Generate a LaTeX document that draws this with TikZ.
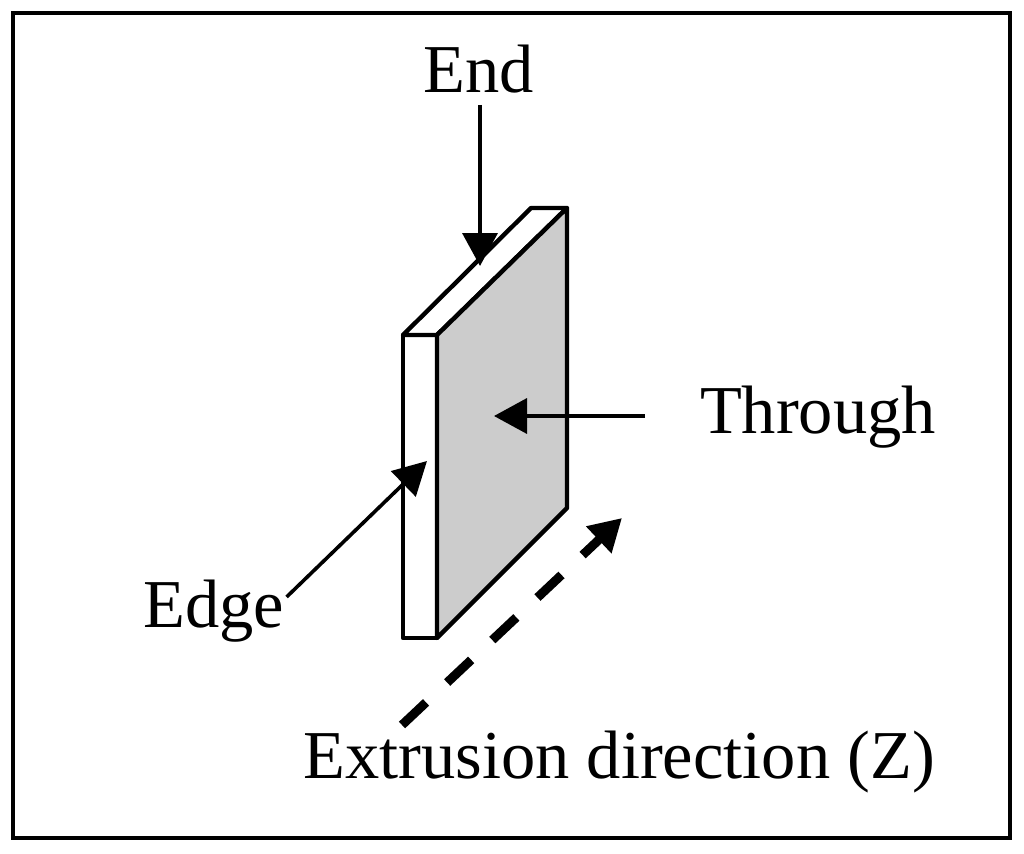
\documentclass[tikz,border=0pt]{standalone}
\usepackage{fontspec}
\setmainfont{Liberation Serif}
\usetikzlibrary{arrows.meta}
\tikzset{
  pointer/.style={draw,line width=3.6pt,-{Triangle[length=33pt,width=35pt]}},
  thrust/.style={draw,line width=9pt,dash pattern=on 33pt off 29pt,-{Triangle[length=32pt,width=35pt]}},
  plate/.style={draw,line width=4.4pt,line join=round},
  caption/.style={font=\fontsize{68.5}{68.5}\selectfont,inner sep=0pt,anchor=base}
}
\begin{document}
\begin{tikzpicture}[x=1pt,y=-1pt]
    \useasboundingbox (0,0) rectangle (1024,853);
    \draw[line width=3.6pt] (13,13) rectangle (1010,838);

    \coordinate (fl_top) at (403,335);
    \coordinate (fr_top) at (437,335);
    \coordinate (fr_bot) at (437,638);
    \coordinate (fl_bot) at (403,638);
    \coordinate (bl_top) at (531,208);
    \coordinate (br_top) at (567,208);
    \coordinate (br_bot) at (567,508);

    \draw[plate,fill=white] (fl_top) -- (fr_top) -- (fr_bot) -- (fl_bot) -- cycle;
    \draw[plate,fill=white] (fl_top) -- (bl_top) -- (br_top) -- (fr_top) -- cycle;
    \draw[plate,fill=black!20] (fr_top) -- (br_top) -- (br_bot) -- (fr_bot) -- cycle;

    \node[caption] (end) at (479,93) {End};
    \node[caption] (through) at (818,433) {Through};
    \node[caption] (edge) at (214,627) {Edge};
    \node[caption] (extrusion) at (619,778) {Extrusion direction (Z)};

    \coordinate (end_tip) at (480,266);
    \coordinate (through_tip) at (494,416);
    \coordinate (through_tail) at (645,416);
    \coordinate (edge_tip) at (427,461);
    \coordinate (z_tail) at (402,725);
    \coordinate (z_tip) at (622,518);

    \draw[pointer,shorten <=11pt] (end.south -| end_tip) -- (end_tip);
    \draw[pointer] (through_tail) -- (through_tip);
    \draw[pointer] (edge.base east) ++(2,-30) -- (edge_tip);
    \draw[thrust] (z_tail) -- (z_tip);
\end{tikzpicture}
\end{document}
